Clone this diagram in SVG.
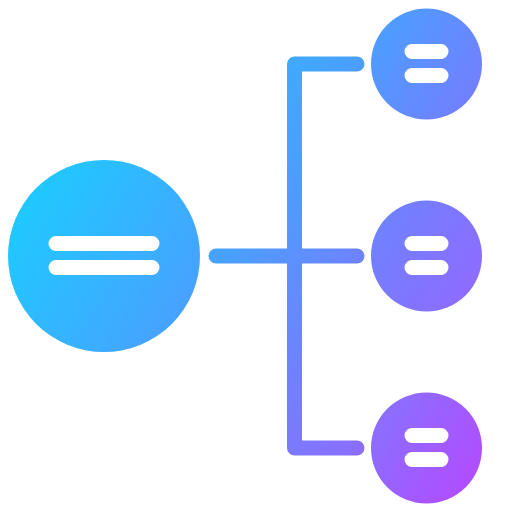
<svg xmlns="http://www.w3.org/2000/svg" width="512" height="512" viewBox="0 0 512 512">
  <defs>
    <linearGradient id="g" gradientUnits="userSpaceOnUse" x1="0" y1="0" x2="594" y2="371">
      <stop offset="0.17" stop-color="#1ecaff"/>
      <stop offset="0.47" stop-color="#49a0ff"/>
      <stop offset="0.64" stop-color="#7180ff"/>
      <stop offset="0.79" stop-color="#8e6cff"/>
      <stop offset="0.95" stop-color="#b44aff"/>
    </linearGradient>
    <style>
      .node { fill: url(#g); }
      .bar { stroke: #ffffff; stroke-linecap: round; fill: none; }
      .conn { stroke: url(#g); stroke-width: 15; stroke-linecap: round; stroke-linejoin: round; fill: none; }
    </style>
  </defs>
  <rect width="512" height="512" fill="#ffffff"/>
  <g id="connectors">
    <path class="conn" d="M357 64 H294.5 V448 H357"/>
    <path class="conn" d="M216 256 H357"/>
  </g>
  <g id="root">
    <circle class="node" cx="104" cy="256" r="96"/>
    <path class="bar" stroke-width="15" d="M56 243.5 H152 M56 267.5 H152"/>
  </g>
  <g id="child-top">
    <circle class="node" cx="426.5" cy="64" r="55.5"/>
    <path class="bar" stroke-width="15" d="M412 51.5 H441 M412 75.5 H441"/>
  </g>
  <g id="child-middle">
    <circle class="node" cx="426.5" cy="256" r="55.5"/>
    <path class="bar" stroke-width="15" d="M412 243.5 H441 M412 267.5 H441"/>
  </g>
  <g id="child-bottom">
    <circle class="node" cx="426.5" cy="448" r="55.5"/>
    <path class="bar" stroke-width="15" d="M412 435.5 H441 M412 459.5 H441"/>
  </g>
</svg>
